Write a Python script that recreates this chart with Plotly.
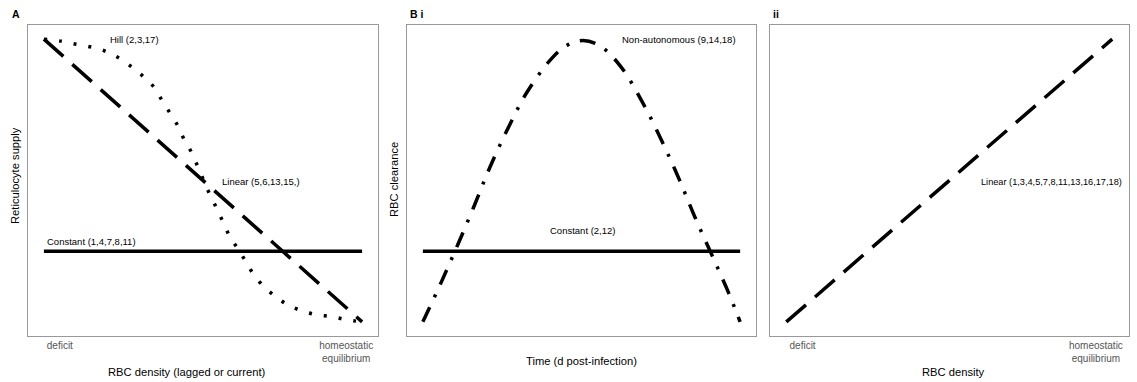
import plotly.graph_objects as go

# ---------------- data ----------------
# Panel A: reticulocyte supply vs RBC density
a_x_lin = [0.0, 1.0]
a_y_lin = [1.0, 0.0]
a_x_const = [0.0, 1.0]
a_y_const = [0.25, 0.25]
a_x_hill = [0.0, 0.053, 0.101, 0.148, 0.192, 0.236, 0.277, 0.314, 0.346, 0.371, 0.396,
            0.421, 0.440, 0.465, 0.484, 0.503, 0.522, 0.544, 0.563, 0.585, 0.610, 0.635,
            0.660, 0.692, 0.730, 0.767, 0.811, 0.858, 0.906, 0.953, 1.0]
a_y_hill = [1.0, 0.993, 0.982, 0.972, 0.958, 0.933, 0.901, 0.866, 0.830, 0.784, 0.739,
            0.693, 0.647, 0.597, 0.548, 0.498, 0.449, 0.399, 0.353, 0.300, 0.258, 0.212,
            0.166, 0.124, 0.088, 0.060, 0.039, 0.025, 0.018, 0.007, 0.0]

# Panel B i: RBC clearance vs time
b_x_const = [0.0, 1.0]
b_y_const = [0.25, 0.25]
b_x_na = [0.0, 0.057, 0.110, 0.161, 0.211, 0.268, 0.328, 0.407, 0.454, 0.505,
          0.560, 0.625, 0.694, 0.754, 0.808, 0.858, 0.912, 0.965, 1.0]
b_y_na = [0.0, 0.138, 0.273, 0.408, 0.546, 0.684, 0.812, 0.933, 0.978, 0.995,
          0.975, 0.901, 0.773, 0.638, 0.504, 0.369, 0.234, 0.099, 0.0]

# Panel B ii: RBC clearance vs RBC density
c_x_lin = [0.0, 1.0]
c_y_lin = [0.0, 1.0]

tick_vals = [0.05, 0.95]
tick_text = ["deficit", "homeostatic<br>equilibrium"]

FONT = "Liberation Sans, Arial, Helvetica, sans-serif"
LW = 3.5

fig = go.Figure()
fig.add_trace(go.Scatter(x=a_x_const, y=a_y_const, mode="lines", xaxis="x", yaxis="y",
                         line=dict(color="black", width=LW)))
fig.add_trace(go.Scatter(x=a_x_lin, y=a_y_lin, mode="lines", xaxis="x", yaxis="y",
                         line=dict(color="black", width=LW, dash="26px,12px")))
fig.add_trace(go.Scatter(x=a_x_hill, y=a_y_hill, mode="lines", xaxis="x", yaxis="y",
                         line=dict(color="black", width=LW, dash="3px,12px", shape="spline")))
fig.add_trace(go.Scatter(x=b_x_const, y=b_y_const, mode="lines", xaxis="x2", yaxis="y2",
                         line=dict(color="black", width=LW)))
fig.add_trace(go.Scatter(x=b_x_na, y=b_y_na, mode="lines", xaxis="x2", yaxis="y2",
                         line=dict(color="black", width=LW, dash="16px,11px,3px,11px", shape="spline")))
fig.add_trace(go.Scatter(x=c_x_lin, y=c_y_lin, mode="lines", xaxis="x3", yaxis="y3",
                         line=dict(color="black", width=LW, dash="26px,12px")))

W, H = 1137, 382
ydom = [1 - 336 / H, 1 - 25 / H]
frame = dict(showline=True, mirror=True, linecolor="#999999", linewidth=1,
             showgrid=False, zeroline=False, ticks="", range=[-0.05, 1.05], fixedrange=True)

fig.update_layout(
    width=W, height=H, margin=dict(l=0, r=0, t=0, b=0),
    paper_bgcolor="white", plot_bgcolor="white", showlegend=False,
    font=dict(family=FONT, color="black"),
    xaxis=dict(domain=[28 / W, 378 / W], anchor="y", tickvals=tick_vals, ticktext=tick_text,
               tickfont=dict(size=10, color="#555555"), **frame),
    yaxis=dict(domain=ydom, anchor="x", showticklabels=False, **frame),
    xaxis2=dict(domain=[407 / W, 756 / W], anchor="y2", showticklabels=False, **frame),
    yaxis2=dict(domain=ydom, anchor="x2", showticklabels=False, **frame),
    xaxis3=dict(domain=[770 / W, 1128.5 / W], anchor="y3", tickvals=tick_vals, ticktext=tick_text,
                tickfont=dict(size=10, color="#555555"), **frame),
    yaxis3=dict(domain=ydom, anchor="x3", showticklabels=False, **frame),
)

ann = []
def note(text, x, y, xref, yref, size=9.5, xanchor="left", yanchor="middle", bold=False, angle=0):
    ann.append(dict(text=("<b>%s</b>" % text) if bold else text, x=x, y=y, xref=xref, yref=yref,
                    showarrow=False, xanchor=xanchor, yanchor=yanchor, textangle=angle,
                    font=dict(size=size, color="black", family=FONT)))

# curve labels
note("Hill (2,3,17)", 0.20, 1.0, "x", "y")
note("Linear (5,6,13,15,)", 0.553, 0.495, "x", "y")
note("Constant (1,4,7,8,11)", 0.003, 0.286, "x", "y")
note("Non-autonomous (9,14,18)", 0.621, 0.997, "x2", "y2")
note("Constant (2,12)", 0.394, 0.322, "x2", "y2")
note("Linear (1,3,4,5,7,8,11,13,16,17,18)", 1.035, 0.493, "x3", "y3", size=9.2, xanchor="right")

# panel letters
note("A", 10 / W, 1 - 14 / H, "paper", "paper", size=10.5, bold=True)
note("B i", 408 / W, 1 - 14 / H, "paper", "paper", size=10.5, bold=True)
note("ii", 771 / W, 1 - 14 / H, "paper", "paper", size=10.5, bold=True)

# axis titles
TS = 11.2
note("RBC density (lagged or current)", 187 / W, 1 - 372 / H, "paper", "paper", size=TS, xanchor="center")
note("Time (d post-infection)", 581 / W, 1 - 361 / H, "paper", "paper", size=TS, xanchor="center")
note("RBC density", 953 / W, 1 - 372 / H, "paper", "paper", size=TS, xanchor="center")
note("Reticulocyte supply", 15 / W, 1 - 176 / H, "paper", "paper", size=TS, xanchor="center", angle=-90)
note("RBC clearance", 394 / W, 1 - 180 / H, "paper", "paper", size=TS, xanchor="center", angle=-90)

fig.update_layout(annotations=ann)
fig.write_html("out.html")
